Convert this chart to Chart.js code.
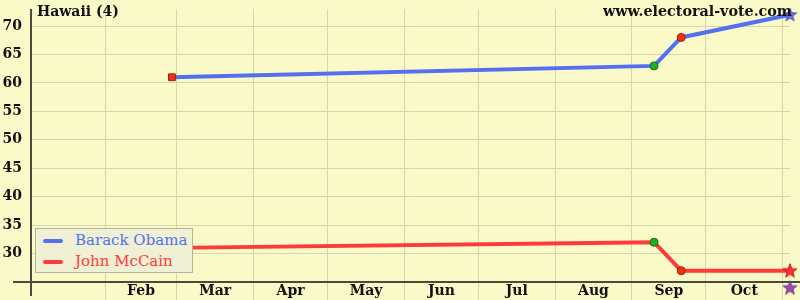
<!DOCTYPE html>
<html><head><meta charset="utf-8">
<script src="https://cdn.jsdelivr.net/npm/chart.js@4/dist/chart.umd.min.js"></script>
<style>
html,body{margin:0;padding:0;background:#fafac8;}
#wrap{position:relative;width:800px;height:300px;overflow:hidden;background:#fafac8;}
#c{position:absolute;left:0;top:0;}
.t{position:absolute;font-family:"DejaVu Serif",serif;font-weight:bold;font-size:14px;color:#111;white-space:nowrap;line-height:16px;}
#title{left:37px;top:3px;}
#site{left:603px;top:3px;font-size:14.3px;}
#legend{position:absolute;left:35px;top:228px;width:158px;height:45px;background:#f0f0d4;border:1px solid #b4b49a;box-sizing:border-box;font-family:"DejaVu Serif",serif;font-size:15px;}
.row{position:absolute;left:0;height:21px;white-space:nowrap;}
.sw{position:absolute;left:7px;top:9px;width:20px;height:4px;border-radius:2px;}
.lb{position:absolute;left:39px;top:1px;line-height:19px;}
</style>
</head><body>
<div id="wrap">
<canvas id="c" width="800" height="300"></canvas>
<div class="t" id="title">Hawaii (4)</div>
<div class="t" id="site">www.electoral-vote.com</div>
<div id="legend"></div>
</div>
<script>
// ---- data ----
const chartTitle = "Hawaii (4)";
const seriesNames = ["Barack Obama", "John McCain"];
const seriesColors = ["#5470f0", "#ff3a3a"];
const pollDays = [58, 253, 264, 308];      // days since Jan 1, 2008
const obamaValues = [61, 63, 68, 72];
const mccainValues = [31, 32, 27, 27];
const extraDays = [308];
const extraValues = [24];
const monthStarts = [31, 60, 91, 121, 152, 182, 213, 244, 274, 305];
const monthLabels = ["Feb", "Mar", "Apr", "May", "Jun", "Jul", "Aug", "Sep", "Oct"];
const yTicks = [30, 35, 40, 45, 50, 55, 60, 65, 70];

// ---- helpers ----
function starImg(fill, stroke, size) {
  const c = document.createElement('canvas');
  c.width = size; c.height = size;
  const g = c.getContext('2d');
  const cx = size / 2, cy = size / 2 + 0.5, R = size / 2 - 0.5, r = R * 0.42;
  g.beginPath();
  for (let i = 0; i < 10; i++) {
    const a = -Math.PI / 2 + i * Math.PI / 5;
    const rr = i % 2 ? r : R;
    g.lineTo(cx + rr * Math.cos(a), cy + rr * Math.sin(a));
  }
  g.closePath();
  g.fillStyle = fill; g.fill();
  g.strokeStyle = stroke; g.lineWidth = 0.8; g.stroke();
  return c;
}
const starBlue = starImg('#6a6ee8', '#4040b0', 15);
const starRed = starImg('#ff3030', '#c01010', 16);
const starPurple = starImg('#9a50a8', '#703080', 16);

const labelMap = {};
const mids = [];
for (let i = 0; i < monthLabels.length; i++) {
  const m = (monthStarts[i] + monthStarts[i + 1]) / 2;
  mids.push(m);
  labelMap[m] = monthLabels[i];
}
const startSet = new Set(monthStarts);

// legend
const leg = document.getElementById('legend');
seriesNames.forEach((n, i) => {
  const row = document.createElement('div');
  row.className = 'row';
  row.style.top = (1 + i * 21) + 'px';
  row.innerHTML = '<div class="sw" style="background:' + seriesColors[i] + '"></div><div class="lb" style="color:' + seriesColors[i] + '">' + n + '</div>';
  leg.appendChild(row);
});

const axisPlugin = {
  id: 'axisLines',
  beforeDatasetsDraw(chart) {
    const { ctx, chartArea } = chart;
    ctx.save();
    ctx.strokeStyle = '#4a4a3c';
    ctx.lineWidth = 2;
    ctx.beginPath();
    ctx.moveTo(13, chartArea.bottom);
    ctx.lineTo(800, chartArea.bottom);
    ctx.moveTo(chartArea.left, chartArea.top);
    ctx.lineTo(chartArea.left, 296);
    ctx.stroke();
    ctx.restore();
  }
};

const gridColor = '#d6d6ac';

new Chart(document.getElementById('c'), {
  type: 'line',
  data: {
    datasets: [
      {
        label: seriesNames[0],
        data: pollDays.map((d, i) => ({ x: d, y: obamaValues[i] })),
        borderColor: seriesColors[0],
        borderWidth: 4,
        pointStyle: ['rect', 'circle', 'circle', starBlue],
        pointRadius: [4.8, 4, 4, 7],
        pointBackgroundColor: ['#f03010', '#20b020', '#f03010', '#6a6ee8'],
        pointBorderColor: ['#a02000', '#107010', '#a02000', '#4040b0'],
        pointBorderWidth: 1,
        clip: false
      },
      {
        label: seriesNames[1],
        data: pollDays.map((d, i) => ({ x: d, y: mccainValues[i] })),
        borderColor: seriesColors[1],
        borderWidth: 4,
        pointStyle: ['rect', 'circle', 'circle', starRed],
        pointRadius: [4.8, 4, 4, 8],
        pointBackgroundColor: ['#f03010', '#20b020', '#f03010', '#ff3030'],
        pointBorderColor: ['#a02000', '#107010', '#a02000', '#c01010'],
        pointBorderWidth: 1,
        clip: false
      },
      {
        label: 'other',
        data: extraDays.map((d, i) => ({ x: d, y: extraValues[i] })),
        showLine: false,
        pointStyle: starPurple,
        pointRadius: 8,
        clip: false
      }
    ]
  },
  options: {
    responsive: false,
    animation: false,
    events: [],
    layout: { padding: { left: 0, right: 10, top: 5, bottom: 0 } },
    plugins: { legend: { display: false }, title: { display: false }, tooltip: { enabled: false } },
    elements: { line: { tension: 0 } },
    scales: {
      x: {
        type: 'linear',
        min: 1,
        max: 308,
        afterBuildTicks(scale) {
          const all = monthStarts.concat(mids).sort((a, b) => a - b);
          scale.ticks = all.map(v => ({ value: v }));
        },
        afterFit(scale) { scale.height = 18; scale.paddingLeft = 0; scale.paddingRight = 0; },
        border: { display: false },
        grid: {
          color: (ctx) => (ctx.tick && startSet.has(ctx.tick.value)) ? gridColor : 'rgba(0,0,0,0)',
          lineWidth: 1,
          drawTicks: true,
          tickLength: 18
        },
        ticks: {
          autoSkip: false,
          maxRotation: 0,
          padding: -17,
          color: '#111',
          font: { family: 'DejaVu Serif', weight: 'bold', size: 14 },
          callback: (v) => labelMap[v] || ''
        }
      },
      y: {
        min: 25,
        max: 73,
        afterBuildTicks(scale) { scale.ticks = yTicks.map(v => ({ value: v })); },
        afterFit(scale) { scale.width = 31; scale.paddingTop = 0; scale.paddingBottom = 0; },
        border: { display: false },
        grid: { color: gridColor, lineWidth: 1, drawTicks: false },
        ticks: {
          padding: 9,
          color: '#111',
          font: { family: 'DejaVu Serif', weight: 'bold', size: 14 }
        }
      }
    }
  },
  plugins: [axisPlugin]
});
</script>
</body></html>
